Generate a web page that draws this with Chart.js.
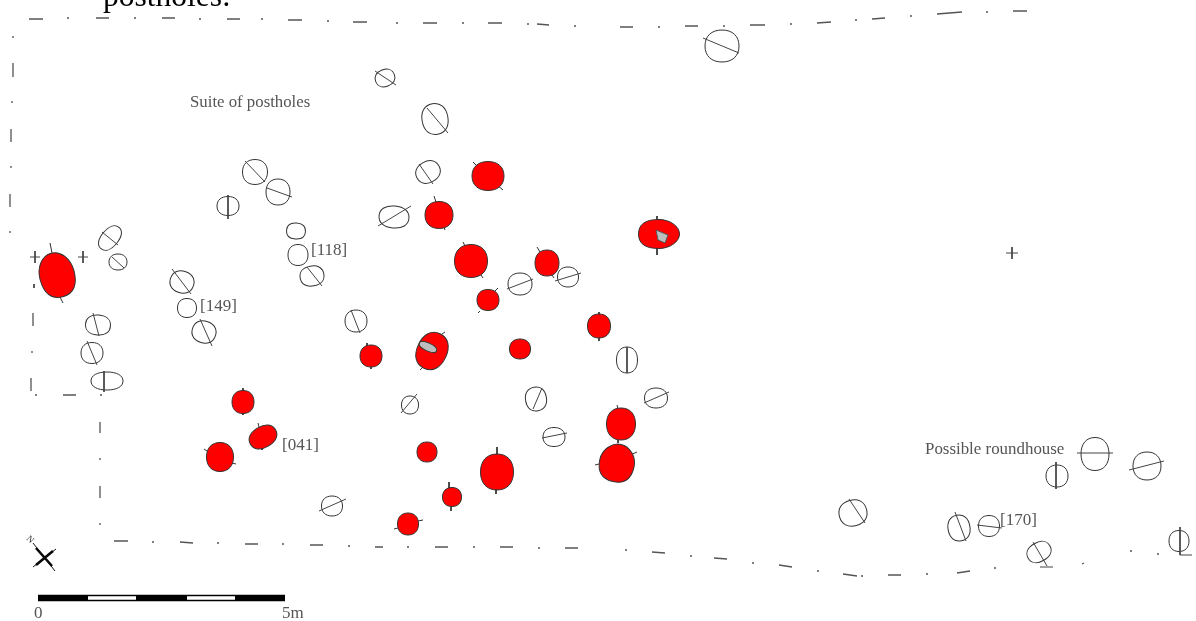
<!DOCTYPE html>
<html>
<head>
<meta charset="utf-8">
<style>
html, body { margin: 0; padding: 0; background: #fff; }
canvas { display: block; filter: blur(0.45px); }
</style>
<script src="https://cdn.jsdelivr.net/npm/chart.js@4/dist/chart.umd.min.js"></script>
</head>
<body>
<canvas id="plan" width="1196" height="621"></canvas>
<script>
// plan units: x, y, radius along, radius across, tilt in degrees, narrowing towards the top
const openHoles = [
  [110, 238, 14, 8.5, -50], [118, 262, 9, 8, 0], [255, 172, 12.5, 12.5, 0], [278, 192, 12, 13, 0],
  [228, 206, 11, 9.5, 0], [296, 231, 9.5, 8, 5], [298, 255, 10, 10.5, 0], [312, 276, 12, 10, -10],
  [182, 282, 12, 11, 20], [187, 308, 9.5, 9.5, 0], [204, 332, 12, 11, 20], [356, 321, 11, 11, 0],
  [98, 325, 12.5, 10, 5], [92, 353, 11, 10.5, 0], [107, 381, 16, 9, 0], [332, 506, 10.5, 10, 0],
  [385, 78, 10, 8.5, -20], [435, 119, 13, 15.5, -10], [428, 172, 12.5, 10.5, -30], [394, 217, 15, 11, 5],
  [520, 284, 12, 11, 0], [568, 277, 10.5, 10, 0], [722, 46, 17, 16, 0], [410, 405, 8.5, 9, 0],
  [536, 399, 10.5, 12, -10], [554, 437, 11, 9.5, 0], [627, 360, 10.5, 13, 0], [656, 398, 11.5, 10, 0],
  [853, 513, 14, 13, -15], [959, 528, 11, 13, -10], [989, 526, 10.5, 10.5, 0], [1057, 476, 11, 11, 0],
  [1095, 454, 14, 16.5, 0], [1147, 466, 14, 14, 0], [1039, 552, 12.5, 9.5, -30], [1179, 541, 10, 10.5, 0]
];
const redHoles = [
  [57, 275, 17.5, 22.5, -15, 0.1], [243, 402, 11, 11.5, 0], [263, 437, 14.5, 10.5, -30], [220, 457, 13.5, 14.5, 0],
  [371, 356, 11, 11, 0], [488, 176, 16, 14.5, 0], [439, 215, 14, 13.5, 0], [471, 261, 16.5, 16.5, 0],
  [547, 263, 12, 13, 0], [659, 234, 14.5, 20.5, 90, 0.15], [488, 300, 11, 10.5, 0], [520, 349, 10.5, 10, 0],
  [599, 326, 11.5, 12, 0], [432, 351, 15, 19, 25], [621, 424, 14.5, 16, 0], [617, 463, 17.5, 19, 12, 0.15],
  [427, 452, 10, 10, 0], [497, 472, 16.5, 18, 0], [452, 497, 9.5, 9.5, 0], [408, 524, 10.5, 11, 0]
];
// section lines across the holes and small marks: x1, y1, x2, y2
const sectionLines = [
  [102, 232, 118, 245], [112, 257, 124, 268], [245, 161, 265, 182], [267, 188, 292, 197], [228, 195, 228, 219],
  [307, 267, 322, 286], [172, 269, 191, 294], [200, 319, 212, 346], [351, 310, 360, 333], [93, 313, 99, 336],
  [87, 341, 97, 365], [104, 371, 104, 392], [319, 511, 346, 499], [375, 71, 396, 85], [427, 108, 448, 133],
  [419, 164, 433, 184], [378, 226, 411, 206], [507, 289, 533, 279], [555, 281, 581, 273], [703, 38, 739, 53],
  [401, 413, 417, 394], [533, 409, 542, 388], [542, 438, 567, 433], [627, 347, 627, 373], [644, 403, 669, 392],
  [849, 499, 865, 523], [955, 512, 966, 541], [977, 525, 1002, 528], [1056, 462, 1056, 489], [1077, 453, 1113, 453],
  [1129, 470, 1164, 461], [1033, 542, 1047, 566], [1040, 567, 1053, 567], [1180, 527, 1180, 555], [1180, 555, 1192, 555]
];
const redTicks = [
  [50, 243, 52, 253], [60, 297, 63, 303], [243, 388, 243, 392], [243, 413, 243, 415], [258, 423, 259, 427],
  [262, 448, 262, 450], [204, 449, 210, 453], [232, 463, 236, 464], [367, 343, 367, 346], [371, 367, 371, 369],
  [473, 162, 477, 166], [497, 185, 503, 190], [434, 196, 436, 202], [444, 227, 445, 230], [463, 242, 465, 246],
  [481, 275, 483, 278], [537, 247, 540, 252], [552, 275, 554, 278], [657, 216, 657, 220], [657, 248, 657, 255],
  [495, 291, 498, 288], [480, 311, 478, 313], [599, 312, 599, 316], [599, 337, 599, 341], [442, 334, 445, 332],
  [420, 370, 423, 367], [617, 405, 618, 409], [618, 440, 618, 443], [630, 455, 637, 452], [595, 465, 599, 464],
  [497, 447, 497, 454], [496, 488, 496, 494], [449, 482, 449, 489], [451, 507, 451, 511], [394, 529, 398, 528],
  [418, 521, 423, 520]
];
const crosses = [
  [1006, 253, 1018, 253], [1012, 247, 1012, 259], [78, 257, 88, 257], [83, 251, 83, 263],
  [30, 257, 40, 257], [35, 251, 35, 263], [34, 284, 34, 288]
];
const boundary = [
  [29, 19, 43, 19], [67, 18, 69, 18], [96, 18, 109, 18], [134, 18, 136, 18], [162, 18, 175, 18], [199, 19, 201, 19],
  [227, 19, 240, 19], [261, 19, 263, 19], [288, 20, 302, 20], [327, 21, 329, 21], [353, 22, 367, 22], [396, 23, 398, 23],
  [423, 23, 437, 23], [462, 23, 464, 23], [488, 23, 502, 23], [527, 24, 529, 24], [537, 24, 549, 25], [574, 26, 576, 26],
  [620, 27, 633, 27], [658, 27, 660, 27], [685, 26, 698, 26], [723, 26, 725, 26], [750, 25, 765, 25], [790, 24, 792, 24],
  [817, 23, 831, 22], [855, 20, 857, 20], [872, 19, 885, 18], [910, 16, 912, 16], [937, 14, 962, 12], [986, 12, 988, 12],
  [1013, 11, 1027, 11],
  [13, 36, 13, 38], [13, 63, 13, 77], [12, 101, 12, 103], [11, 129, 11, 142], [11, 166, 11, 168], [10, 194, 10, 207], [10, 231, 10, 233],
  [33, 313, 33, 326], [32, 351, 32, 353], [31, 378, 31, 391], [35, 395, 37, 395], [63, 395, 76, 395], [100, 395, 102, 395],
  [100, 422, 100, 433], [100, 458, 100, 460], [100, 486, 100, 498], [100, 523, 100, 525],
  [114, 541, 128, 541], [152, 542, 154, 542], [180, 542, 193, 543], [217, 543, 219, 543], [245, 544, 258, 544], [282, 544, 284, 544],
  [310, 545, 323, 545], [348, 546, 350, 546], [375, 547, 383, 547], [407, 547, 409, 547], [435, 547, 448, 547], [473, 547, 475, 547],
  [500, 547, 513, 547], [538, 548, 540, 548], [565, 548, 578, 548], [625, 550, 627, 550], [652, 552, 665, 553], [690, 556, 692, 556],
  [714, 558, 727, 559], [752, 563, 754, 563], [779, 565, 792, 567], [817, 571, 819, 571], [843, 574, 857, 576], [861, 576, 863, 576],
  [888, 575, 901, 575], [926, 574, 928, 574], [957, 573, 970, 571], [994, 568, 996, 568], [1082, 564, 1084, 563], [1130, 551, 1132, 551],
  [1157, 554, 1159, 554]
];
const northThin = [[33, 543, 55, 571], [33, 567, 56, 549]];
const northThick = [[36, 548, 52, 566], [36, 565, 53, 551]];
const insetGrey = [[656, 230], [668, 235], [665, 243], [658, 240], [656, 230]];
const insetEllipse = [[428, 347, 9.5, 4, 25]];
// scale bar
const barBlack = [[38, 88], [136, 187], [235, 285]];
const barWhite = [[88, 136], [187, 235]];
const barY = 598;
// text, x, y, size, colour, rotation
const labels = [
  ['postholes:', 103, 6, 31.5, '#000', 0],
  ['Suite of postholes', 190, 107, 16.8, '#555', 0],
  ['[118]', 311, 255, 17, '#555', 0],
  ['[149]', 200, 311, 17, '#555', 0],
  ['[041]', 282, 450, 17, '#555', 0],
  ['[170]', 1000, 525, 17, '#555', 0],
  ['Possible roundhouse', 925, 454, 16.9, '#555', 0],
  ['0', 34, 618, 17, '#555', 0],
  ['5m', 282, 618, 17, '#555', 0],
  ['N', 26, 539, 9, '#333', 45]
];

function segs(list) {
  const out = [];
  list.forEach(s => {
    out.push({ x: s[0], y: s[1] }, { x: s[2], y: s[3] }, { x: null, y: null });
  });
  return out;
}
// hole outline, a bit fuller than a true ellipse since the cuts are hand drawn
function sprite(h, fill, stroke) {
  // even size so the sprite lands on whole pixels
  const size = 2 * Math.ceil(Math.max(h[2], h[3]) + 4);
  const c = document.createElement('canvas');
  c.width = size; c.height = size;
  const g = c.getContext('2d');
  const a = h[2], b = h[3], k = 0.62, e = h[5] || 0;
  g.translate(size / 2, size / 2);
  g.rotate(h[4] * Math.PI / 180);
  g.beginPath();
  g.moveTo(0, -b);
  g.bezierCurveTo(a * k * (1 - e), -b, a, -b * k * (1 - e), a, 0);
  g.bezierCurveTo(a, b * k, a * k * (1 + e), b, 0, b);
  g.bezierCurveTo(-a * k * (1 + e), b, -a, b * k, -a, 0);
  g.bezierCurveTo(-a, -b * k * (1 - e), -a * k * (1 - e), -b, 0, -b);
  g.closePath();
  if (fill) { g.fillStyle = fill; g.fill(); }
  g.strokeStyle = stroke;
  g.lineWidth = 1;
  g.stroke();
  return c;
}
function lineSet(list, color, width, order) {
  return {
    data: segs(list), showLine: true, pointRadius: 0, borderColor: color, borderWidth: width,
    spanGaps: false, order: order, borderCapStyle: 'butt', fill: false
  };
}
function holeSet(list, fill, stroke, order) {
  const sprites = list.map(h => sprite(h, fill, stroke));
  return {
    data: list.map(h => ({ x: h[0], y: h[1] })), showLine: false, order: order,
    pointStyle: sprites, pointRadius: 10, pointBorderWidth: 0
  };
}

const labelPlugin = {
  id: 'labelPlugin',
  afterDatasetsDraw(chart) {
    const { ctx, scales } = chart;
    labels.forEach(l => {
      ctx.save();
      ctx.translate(scales.x.getPixelForValue(l[1]), scales.y.getPixelForValue(l[2]));
      ctx.rotate(l[5] * Math.PI / 180);
      ctx.font = l[3] + 'px "Liberation Serif"';
      ctx.fillStyle = l[4];
      ctx.textBaseline = 'alphabetic';
      ctx.fillText(l[0], 0, 0);
      ctx.restore();
    });
  }
};

new Chart(document.getElementById('plan'), {
  type: 'scatter',
  data: {
    datasets: [
      lineSet(boundary, '#555', 1.3, 9),
      lineSet(redTicks, '#333', 1, 8),
      holeSet(redHoles, '#ff0000', '#333', 7),
      holeSet(insetEllipse, '#bdbdbd', '#333', 6),
      { data: insetGrey.map(p => ({ x: p[0], y: p[1] })), showLine: true, pointRadius: 0, borderColor: '#555', borderWidth: 1, backgroundColor: '#bdbdbd', fill: 'shape', order: 6 },
      holeSet(openHoles, null, '#333', 5),
      lineSet(sectionLines, '#444', 1, 4),
      lineSet(crosses, '#444', 1, 4),
      lineSet(northThin, '#111', 1, 3),
      lineSet(northThick, '#000', 2.5, 3),
      lineSet(barBlack.concat(barWhite).map(b => [b[0], barY, b[1], barY]), '#000', 6.5, 2),
      lineSet(barWhite.map(b => [b[0], barY, b[1], barY]), '#fff', 3.5, 1)
    ]
  },
  plugins: [labelPlugin],
  options: {
    responsive: false,
    animation: false,
    devicePixelRatio: 1,
    layout: { padding: 0, autoPadding: false },
    clip: false,
    plugins: { legend: { display: false }, tooltip: { enabled: false } },
    scales: {
      x: { type: 'linear', min: 0, max: 1196, display: false },
      y: { type: 'linear', min: 0, max: 621, reverse: true, display: false }
    }
  }
});
</script>
</body>
</html>
